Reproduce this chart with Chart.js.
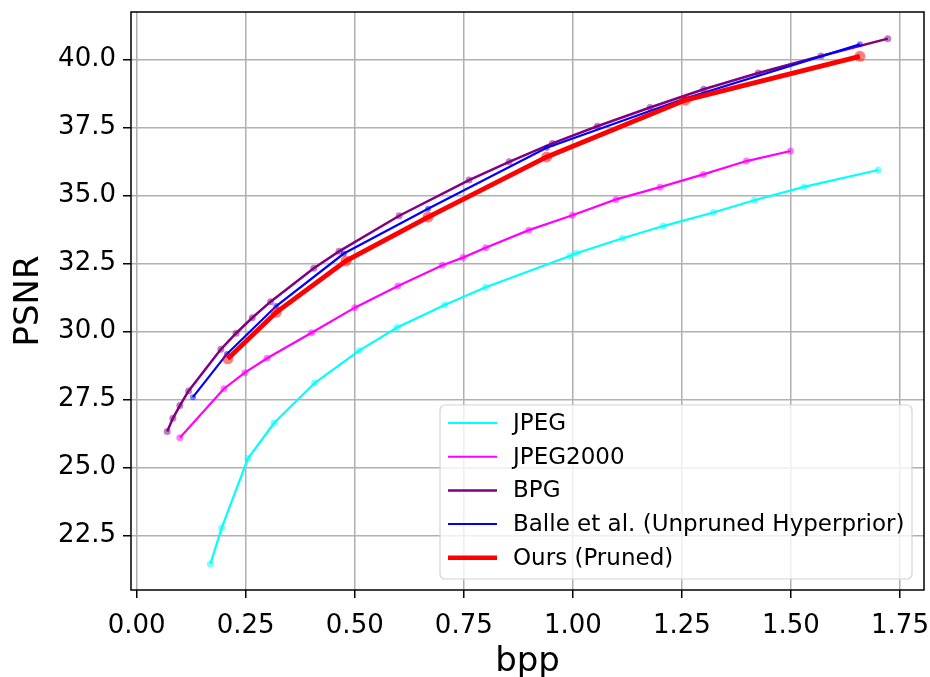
<!DOCTYPE html>
<html>
<head>
<meta charset="utf-8">
<script src="https://cdn.jsdelivr.net/npm/chart.js@4"></script>
<style>
  html, body { margin: 0; padding: 0; background: #fff; }
  #wrap { width: 930px; height: 677px; }
</style>
</head>
<body>
<div id="wrap"><canvas id="psnrChart"></canvas></div>
<script>
// ---- values (bpp / PSNR) ----
const jpegBpp  = [0.169, 0.195, 0.255, 0.315, 0.408, 0.510, 0.597, 0.706, 0.800, 0.993, 1.008, 1.114, 1.207, 1.322, 1.416, 1.530, 1.700];
const jpegPsnr = [21.46, 22.78, 25.33, 26.64, 28.11, 29.30, 30.15, 30.98, 31.63, 32.78, 32.88, 33.43, 33.88, 34.38, 34.83, 35.32, 35.94];

const j2kBpp  = [0.099, 0.200, 0.248, 0.299, 0.401, 0.500, 0.599, 0.701, 0.748, 0.800, 0.899, 0.999, 1.099, 1.200, 1.299, 1.398, 1.499];
const j2kPsnr = [26.10, 27.90, 28.49, 29.02, 29.96, 30.88, 31.68, 32.44, 32.72, 33.08, 33.73, 34.28, 34.86, 35.31, 35.78, 36.27, 36.64];

const bpgBpp  = [0.070, 0.083, 0.099, 0.119, 0.193, 0.228, 0.265, 0.307, 0.406, 0.464, 0.602, 0.762, 0.854, 0.953, 1.056, 1.177, 1.300, 1.425, 1.569, 1.722];
const bpgPsnr = [26.33, 26.81, 27.28, 27.82, 29.35, 29.94, 30.51, 31.10, 32.33, 32.95, 34.26, 35.57, 36.24, 36.92, 37.55, 38.24, 38.91, 39.51, 40.13, 40.77];

const balleBpp  = [0.129, 0.207, 0.320, 0.475, 0.668, 0.940, 1.257, 1.658];
const ballePsnr = [27.59, 29.18, 30.94, 32.87, 34.52, 36.76, 38.57, 40.56];

const oursBpp  = [0.209, 0.320, 0.480, 0.668, 0.940, 1.258, 1.658];
const oursPsnr = [29.00, 30.71, 32.60, 34.21, 36.42, 38.51, 40.12];

const seriesNames = ['JPEG', 'JPEG2000', 'BPG', 'Balle et al. (Unpruned Hyperprior)', 'Ours (Pruned)'];

const xTicks = [0, 0.25, 0.5, 0.75, 1.0, 1.25, 1.5, 1.75];
const yTicks = [22.5, 25.0, 27.5, 30.0, 32.5, 35.0, 37.5, 40.0];

const FONT = 'DejaVu Sans';

function pts(xs, ys) {
    return xs.map((x, i) => ({ x: x, y: ys[i] }));
}

// line width / marker style per series
const styles = [
    { color: '#00ffff', dot: 'rgba(0,255,255,0.5)',   width: 2.2, r: 3.5, legendW: 2 },
    { color: '#ff00ff', dot: 'rgba(255,0,255,0.5)',   width: 2.2, r: 3.5, legendW: 2 },
    { color: '#800080', dot: 'rgba(128,0,128,0.5)',   width: 2.5, r: 3.5, legendW: 2.5 },
    { color: '#0000ff', dot: 'rgba(0,0,255,0.5)',     width: 2.2, r: 3,   legendW: 2 },
    { color: '#ff0000', dot: 'rgba(255,0,0,0.5)',     width: 4.8, r: 5.5, legendW: 4.5 }
];
const allData = [
    pts(jpegBpp, jpegPsnr),
    pts(j2kBpp, j2kPsnr),
    pts(bpgBpp, bpgPsnr),
    pts(balleBpp, ballePsnr),
    pts(oursBpp, oursPsnr)
];

const datasets = allData.map((d, i) => ({
    label: seriesNames[i],
    data: d,
    showLine: true,
    borderColor: styles[i].color,
    borderWidth: styles[i].width,
    backgroundColor: styles[i].color,
    pointBackgroundColor: styles[i].dot,
    pointBorderWidth: 0,
    pointRadius: styles[i].r,
    tension: 0,
    order: 4 - i // later series on top, like matplotlib
}));

// -------------------------------
// frame + in-plot legend
// -------------------------------
const framePlugin = {
    id: 'frame',
    afterDraw(chart) {
        const ctx = chart.ctx;
        const a = chart.chartArea;

        // legend box, lower right
        const bx = 440, by = 405, bw = 472, bh = 174;
        ctx.save();
        ctx.beginPath();
        ctx.roundRect(bx, by, bw, bh, 5);
        ctx.fillStyle = 'rgba(255,255,255,0.8)';
        ctx.fill();
        ctx.strokeStyle = '#d4d4d4';
        ctx.lineWidth = 1.2;
        ctx.stroke();

        ctx.font = '23px "' + FONT + '"';
        ctx.textBaseline = 'middle';
        ctx.fillStyle = '#000';
        chart.data.datasets.forEach((ds, i) => {
            const y = 423 + i * 33.7;
            ctx.beginPath();
            ctx.moveTo(448, y);
            ctx.lineTo(497, y);
            ctx.strokeStyle = ds.borderColor;
            ctx.lineWidth = styles[i].legendW;
            ctx.stroke();
            ctx.fillText(ds.label, 513, y + 1);
        });
        ctx.restore();

        // black frame
        ctx.save();
        ctx.strokeStyle = '#000';
        ctx.lineWidth = 1.5;
        ctx.strokeRect(a.left, a.top, a.right - a.left, a.bottom - a.top);
        ctx.restore();
    }
};

const ctx = document.getElementById('psnrChart').getContext('2d');

new Chart(ctx, {
    type: 'scatter',
    data: { datasets: datasets },
    options: {
        responsive: true,
        maintainAspectRatio: false,
        animation: false,
        layout: { padding: { top: 12, right: 6, left: 0, bottom: 0 } },
        plugins: {
            legend: { display: false },
            tooltip: { enabled: false }
        },
        scales: {
            x: {
                type: 'linear',
                min: -0.013,
                max: 1.805,
                afterBuildTicks: s => { s.ticks = xTicks.map(v => ({ value: v })); },
                afterFit: s => {
                    s.height = 87;
                    s.paddingLeft = 0;
                    s.paddingRight = 0;
                },
                ticks: {
                    callback: v => v.toFixed(2),
                    font: { family: FONT, size: 26 },
                    color: '#000',
                    padding: 13,
                    maxRotation: 0,
                    autoSkip: false
                },
                grid: { color: '#b0b0b0', lineWidth: 1.5, tickColor: '#000', tickLength: 8 },
                border: { display: false },
                title: {
                    display: true,
                    text: 'bpp',
                    color: '#000',
                    font: { family: FONT, size: 34, lineHeight: 0.9 },
                    padding: { top: 0, bottom: 0 }
                }
            },
            y: {
                type: 'linear',
                min: 20.5,
                max: 41.75,
                afterBuildTicks: s => { s.ticks = yTicks.map(v => ({ value: v })); },
                afterFit: s => {
                    s.width = 131;
                    s.paddingTop = 0;
                    s.paddingBottom = 0;
                },
                ticks: {
                    callback: v => v.toFixed(1),
                    font: { family: FONT, size: 26 },
                    color: '#000',
                    padding: 7,
                    autoSkip: false
                },
                grid: { color: '#b0b0b0', lineWidth: 1.5, tickColor: '#000', tickLength: 8 },
                border: { display: false },
                title: {
                    display: true,
                    text: 'PSNR',
                    color: '#000',
                    font: { family: FONT, size: 34 },
                    padding: { top: 9, bottom: 0 }
                }
            }
        }
    },
    plugins: [framePlugin]
});
</script>
</body>
</html>
